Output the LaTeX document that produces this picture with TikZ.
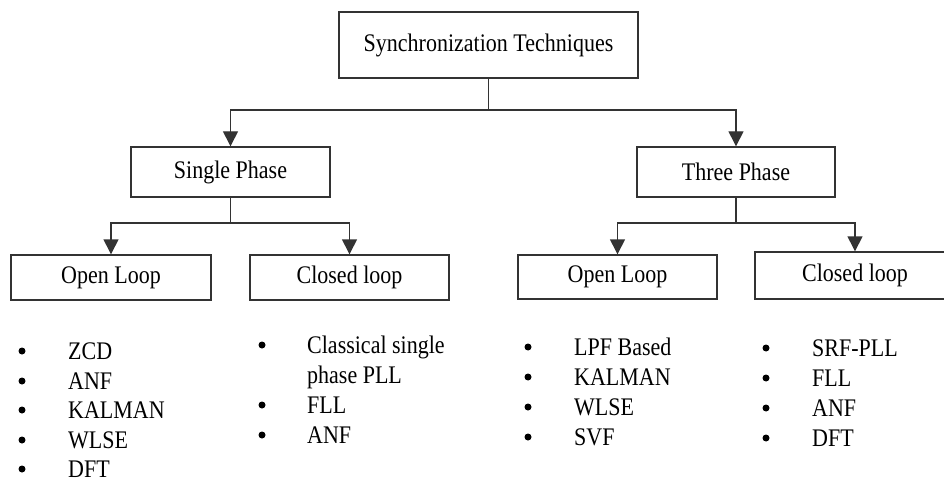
\documentclass[tikz,border=0pt]{standalone}
\usepackage{fontspec}
\setmainfont{Liberation Serif}
\usetikzlibrary{arrows.meta}
\newcommand{\tx}[1]{\scalebox{1}[1.15]{#1}}
\begin{document}
\begin{tikzpicture}[x=1pt,y=-1pt,
  box/.style={draw=black!80,line width=1.4pt,inner sep=0pt,font=\fontsize{22}{26}\selectfont},
  conn/.style={draw=black!80,line width=1.4pt},
  arr/.style={conn,-{Triangle[width=15pt,length=15pt]}},
  item/.style={anchor=base west,inner sep=0pt,font=\fontsize{22}{26}\selectfont},
  bul/.style={circle,fill=black,inner sep=0pt,minimum size=7pt}]
\useasboundingbox (0,0) rectangle (944,481);
\begin{scope}
\clip (0,0) rectangle (944,481);
\fill[white] (0,0) rectangle (944,481);
\node[box,minimum width=299pt,minimum height=66pt] (top) at (488.5,45) {\tx{Synchronization Techniques}};
\node[box,minimum width=199pt,minimum height=50pt] (sp) at (230.5,172) {\tx{Single Phase}};
\node[box,minimum width=198pt,minimum height=50pt] (tp) at (736,172) {\tx{Three Phase}};
\node[box,minimum width=200pt,minimum height=45pt] (ol1) at (111,277.5) {\tx{Open Loop}};
\node[box,minimum width=199pt,minimum height=45pt] (cl1) at (349.5,277.5) {\tx{Closed loop}};
\node[box,minimum width=199pt,minimum height=44pt] (ol2) at (617.5,277) {\tx{Open Loop}};
\node[box,minimum width=200pt,minimum height=47pt] (cl2) at (855,275.5) {\tx{Closed loop}};

\coordinate (j1) at (488.5,110);
\coordinate (j2) at (230.5,223);
\coordinate (j3) at (736,223);
\draw[conn] (top.south) -- (j1);
\draw[arr] (j1) -| (sp.north);
\draw[arr] (j1) -| (tp.north);
\draw[conn] (sp.south) -- (j2);
\draw[arr] (j2) -| (ol1.north);
\draw[arr] (j2) -| (cl1.north);
\draw[conn] (tp.south) -- (j3);
\draw[arr] (j3) -| (ol2.north);
\draw[arr] (j3) -| (cl2.north);

% Single phase open loop
\foreach \t/\y [count=\i] in {ZCD/359,ANF/389,KALMAN/418,WLSE/448,DFT/477}{
  \node[bul] (b1\i) at (22,\y-8) {};
  \node[item] (t1\i) at (68,\y) {\tx{\t}};
}
% Single phase closed loop
\node[bul] (b21) at (262,345) {};
\node[item] (t21) at (307,353) {\tx{Classical single}};
\node[item] (t22) at (307,383) {\tx{phase PLL}};
\node[bul] (b23) at (262,405) {};
\node[item] (t23) at (307,413) {\tx{FLL}};
\node[bul] (b24) at (262,435) {};
\node[item] (t24) at (307,443) {\tx{ANF}};
% Three phase open loop
\foreach \t/\y [count=\i] in {LPF Based/355,KALMAN/385,WLSE/415,SVF/445}{
  \node[bul] (b3\i) at (528,\y-8) {};
  \node[item] (t3\i) at (574,\y) {\tx{\t}};
}
% Three phase closed loop
\foreach \t/\y [count=\i] in {SRF-PLL/356,FLL/386,ANF/416,DFT/446}{
  \node[bul] (b4\i) at (766,\y-8) {};
  \node[item] (t4\i) at (812,\y) {\tx{\t}};
}
\end{scope}
\end{tikzpicture}
\end{document}
